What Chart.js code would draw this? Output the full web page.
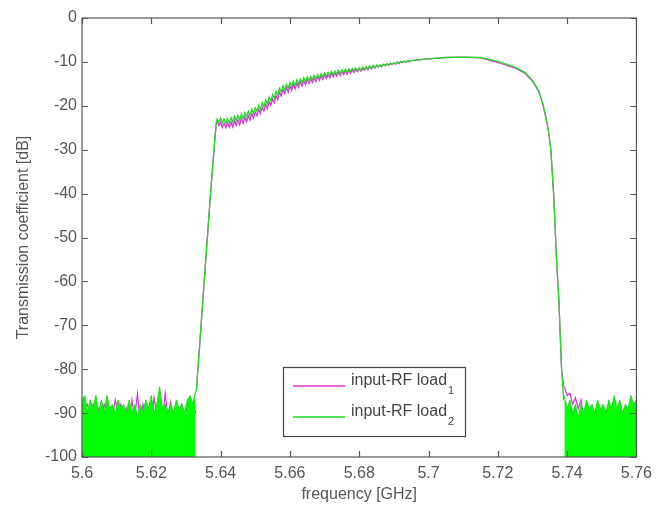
<!DOCTYPE html>
<html>
<head>
<meta charset="utf-8">
<script src="https://cdn.jsdelivr.net/npm/chart.js@4/dist/chart.umd.min.js"></script>
<style>
html,body{margin:0;padding:0;background:#fff;}
#wrap{position:relative;width:659px;height:508px;}
</style>
</head>
<body>
<div id="wrap"><canvas id="c" width="659" height="508"></canvas></div>
<script>
// ---------- DATA ----------
const seriesNames = ['input-RF load', 'input-RF load'];
const seriesSubs = ['1', '2'];
const xTickLabels = ['5.6','5.62','5.64','5.66','5.68','5.7','5.72','5.74','5.76'];
const yTickLabels = ['-100','-90','-80','-70','-60','-50','-40','-30','-20','-10','0'];

// passband frequencies (GHz)
const passFreq = [
  5.6330,5.6340,5.6350,5.6360,5.6370,5.6380,5.6387,
  5.6390,5.6395,
  5.6400,5.6405,5.6410,5.6415,5.6420,5.6425,5.6430,5.6435,5.6440,5.6445,5.6450,5.6455,5.6460,5.6465,5.6470,5.6475,5.6480,5.6485,5.6490,5.6495,
  5.6500,5.6505,5.6510,5.6515,5.6520,5.6525,5.6530,5.6535,5.6540,5.6545,5.6550,5.6555,5.6560,5.6565,5.6570,5.6575,5.6580,5.6585,5.6590,5.6595,
  5.6600,5.6605,5.6610,5.6615,5.6620,5.6625,5.6630,5.6635,5.6640,5.6645,5.6650,5.6655,5.6660,5.6665,5.6670,5.6675,5.6680,5.6685,5.6690,5.6695,
  5.6700,5.6705,5.6710,5.6715,5.6720,5.6725,5.6730,5.6735,5.6740,5.6745,5.6750,5.6755,5.6760,5.6765,5.6770,5.6775,5.6780,5.6785,5.6790,5.6795,
  5.6800,5.6805,5.6810,5.6815,5.6820,5.6825,5.6830,5.6835,5.6840,5.6845,5.6850,5.6855,5.6860,5.6865,5.6870,5.6875,5.6880,5.6885,5.6890,5.6895,
  5.6900,5.6905,5.6910,5.6915,5.6920,5.6925,5.6930,5.6935,5.6940,5.6945,5.6950,
  5.7000,5.7050,5.7100,5.7150,5.7180,5.7200,5.7220,5.7250,5.7280,5.7300,
  5.7318,5.7330,5.7340,5.7347,5.7353,5.7361,5.7370,5.7376,5.7384,5.7390
];
// load 1 (magenta) passband, dB
const load1Pass = [
  -85,-74,-63,-52,-41,-31,-24.5,
  -23.5,-24.5,
  -23.7,-24.9,-24.0,-25.0,-23.9,-24.9,-23.7,-24.8,-23.4,-24.5,-23.2,-24.3,-22.9,-24.0,-22.6,-23.6,-22.2,-23.2,-21.8,-22.8,
  -21.4,-22.3,-20.8,-21.8,-20.3,-21.2,-19.7,-20.6,-19.0,-19.9,-18.4,-19.3,-17.7,-18.6,-16.9,-17.8,-16.3,-17.2,-15.9,-16.9,
  -15.5,-16.5,-15.1,-16.1,-14.8,-15.8,-14.6,-15.5,-14.3,-15.2,-14.0,-14.9,-13.9,-14.7,-13.6,-14.5,-13.4,-14.2,-13.2,-14.0,
  -13.0,-13.8,-12.9,-13.6,-12.6,-13.4,-12.5,-13.2,-12.3,-13.1,-12.2,-12.9,-12.1,-12.8,-11.9,-12.6,-11.8,-12.4,-11.7,-12.2,
  -11.6,-12.1,-11.5,-11.9,-11.3,-11.8,-11.1,-11.6,-11.0,-11.4,-10.9,-11.2,-10.8,-11.1,-10.6,-10.9,-10.5,-10.8,-10.4,-10.6,
  -10.3,-10.5,-10.1,-10.4,-10.0,-10.2,-9.9,-10.1,-9.8,-10.0,-9.7,
  -9.3,-9.0,-8.9,-9.1,-9.7,-10.1,-10.6,-11.4,-12.7,-14.4,
  -16.7,-19.7,-23.2,-26.2,-30.0,-40.0,-56.0,-64.0,-80.0,-84.0
];
// load 2 (green) passband, dB
const load2Pass = [
  -85,-74,-63,-52,-41,-31,-24,
  -23.0,-23.7,
  -22.8,-23.9,-23.0,-24.0,-22.9,-23.9,-22.7,-23.7,-22.4,-23.4,-22.2,-23.2,-21.9,-22.9,-21.6,-22.6,-21.2,-22.2,-20.8,-21.8,
  -20.4,-21.3,-19.8,-20.8,-19.3,-20.2,-18.7,-19.6,-18.0,-18.9,-17.4,-18.3,-16.7,-17.6,-16.0,-16.9,-15.4,-16.4,-15.1,-16.0,
  -14.7,-15.6,-14.4,-15.3,-14.1,-15.0,-13.9,-14.7,-13.6,-14.5,-13.4,-14.2,-13.3,-14.0,-13.1,-13.8,-12.9,-13.6,-12.7,-13.4,
  -12.5,-13.2,-12.4,-13.0,-12.2,-12.9,-12.1,-12.7,-11.9,-12.6,-11.8,-12.4,-11.7,-12.3,-11.6,-12.1,-11.5,-12.0,-11.4,-11.9,
  -11.3,-11.8,-11.2,-11.7,-11.1,-11.6,-10.9,-11.4,-10.8,-11.3,-10.7,-11.1,-10.7,-11.0,-10.5,-10.8,-10.4,-10.7,-10.3,-10.5,
  -10.2,-10.4,-10.0,-10.3,-9.9,-10.1,-9.8,-10.0,-9.7,-9.9,-9.7,
  -9.3,-9.0,-8.9,-9.0,-9.5,-9.9,-10.4,-11.2,-12.5,-14.2,
  -16.5,-19.5,-23.0,-26.0,-30.0,-40.0,-56.0,-64.0,-80.0,-87.0
];

// noise floor, low-frequency side
const noiseLeftFreq = [
  5.6000,5.6008,5.6016,5.6024,5.6032,5.6040,5.6048,5.6056,5.6064,5.6072,
  5.6080,5.6088,5.6096,5.6104,5.6112,5.6120,5.6128,5.6136,5.6144,5.6152,
  5.6160,5.6168,5.6176,5.6184,5.6192,5.6200,5.6208,5.6216,5.6224,5.6232,
  5.6240,5.6248,5.6256,5.6264,5.6272,5.6280,5.6288,5.6296,5.6304,5.6312,
  5.6320,5.6328
];
const load1NoiseLeft = [
  -88,-89,-88,-91,-88,-90,-89,-91,-88,-90,
  -89,-91,-87,-90,-88,-91,-89,-92,-87,-91,
  -85.5,-92,-88,-91,-89,-93,-86.5,-90,-88,-92,
  -85.5,-91,-87.5,-92,-89,-91,-88,-90,-89,-91,
  -88,-90
];
const load2NoiseLeft = [
  -87,-86,-90,-87,-89,-86,-90,-87,-90,-86,
  -89,-88,-90,-87,-89,-88,-90,-87,-90,-88,
  -91,-88,-90,-87,-89,-86,-90,-88,-84,-89,
  -88,-90,-88,-90,-87,-89,-88,-90,-87,-86,
  -88,-85
];
// noise floor, high-frequency side
const noiseRightFreq = [
  5.7392,5.7400,5.7408,5.7416,5.7424,5.7432,5.7440,5.7448,5.7456,5.7464,
  5.7472,5.7480,5.7488,5.7496,5.7504,5.7512,5.7520,5.7528,5.7536,5.7544,
  5.7552,5.7560,5.7568,5.7576,5.7584,5.7592,5.7600
];
const load1NoiseRight = [
  -84,-86,-85.5,-88,-86.5,-89,-87,-91,-88,-90,
  -89,-91,-88,-90,-89,-91,-88,-90,-89,-91,
  -88,-90,-89,-91,-87,-90,-88
];
const load2NoiseRight = [
  -86,-89,-87,-90,-88,-91,-88,-90,-87,-89,
  -88,-90,-87,-89,-88,-90,-87,-89,-86,-89,
  -87,-90,-88,-89,-86,-88,-87
];

// ---------- STYLE ----------
const MAGENTA = '#dd33dd';
const GREEN = '#22dd22';
const NOISE_GREEN = '#00ff00';
const TEXT = '#555';
const AXIS = '#555';
const FONT = "'Liberation Sans', Arial, Helvetica, sans-serif";

const pts = (f, v) => f.map((x, i) => ({x: x, y: v[i]}));

const boxTicks = {
  id: 'boxTicks',
  afterDraw(chart) {
    const {ctx, chartArea: a, scales: {x, y}} = chart;
    ctx.save();
    ctx.strokeStyle = AXIS;
    ctx.lineWidth = 1.2;
    ctx.strokeRect(a.left, a.top, a.width, a.height);
    ctx.beginPath();
    const L = 6;
    x.ticks.forEach(t => {
      const p = Math.round(x.getPixelForValue(t.value)) + 0.5;
      ctx.moveTo(p, a.bottom); ctx.lineTo(p, a.bottom - L);
      ctx.moveTo(p, a.top); ctx.lineTo(p, a.top + L);
    });
    y.ticks.forEach(t => {
      const p = Math.round(y.getPixelForValue(t.value)) + 0.5;
      ctx.moveTo(a.left, p); ctx.lineTo(a.left + L, p);
      ctx.moveTo(a.right, p); ctx.lineTo(a.right - L, p);
    });
    ctx.stroke();
    ctx.restore();
  }
};

const boxLegend = {
  id: 'boxLegend',
  afterDraw(chart) {
    const {ctx, chartArea: a} = chart;
    const bx = a.left + 201, by = a.top + 349, bw = 182, bh = 69;
    ctx.save();
    ctx.fillStyle = '#fff';
    ctx.fillRect(bx, by, bw, bh);
    ctx.strokeStyle = '#444';
    ctx.lineWidth = 1.2;
    ctx.strokeRect(bx + 0.5, by + 0.5, bw, bh);
    const colors = [MAGENTA, GREEN];
    const rows = [by + 19, by + 50];
    rows.forEach((ry, i) => {
      ctx.strokeStyle = colors[i];
      ctx.lineWidth = 1.5;
      ctx.beginPath();
      ctx.moveTo(bx + 10, ry); ctx.lineTo(bx + 62, ry);
      ctx.stroke();
      ctx.fillStyle = '#444';
      ctx.textBaseline = 'middle';
      ctx.textAlign = 'left';
      ctx.font = '16px ' + FONT;
      const tx = bx + 68;
      ctx.fillText(seriesNames[i], tx, ry - 5);
      const w = ctx.measureText(seriesNames[i]).width;
      ctx.font = '11px ' + FONT;
      ctx.fillText(seriesSubs[i], tx + w + 1, ry + 5);
    });
    ctx.restore();
  }
};

const lineDs = (label, data, color, extra) => Object.assign({
  label: label, data: data, borderColor: color, backgroundColor: color,
  borderWidth: 1.3, pointRadius: 0, tension: 0, fill: false
}, extra || {});

new Chart(document.getElementById('c'), {
  type: 'line',
  data: {
    datasets: [
      lineDs('load2', pts(passFreq, load2Pass), GREEN),
      lineDs('load2 noise L', pts(noiseLeftFreq, load2NoiseLeft), GREEN, {fill: 'start', backgroundColor: NOISE_GREEN, borderWidth: 1}),
      lineDs('load2 noise R', pts(noiseRightFreq, load2NoiseRight), GREEN, {fill: 'start', backgroundColor: NOISE_GREEN, borderWidth: 1}),
      lineDs('load1', pts(passFreq, load1Pass), MAGENTA),
      lineDs('load1 noise L', pts(noiseLeftFreq, load1NoiseLeft), MAGENTA, {borderWidth: 1.2}),
      lineDs('load1 noise R', pts(noiseRightFreq, load1NoiseRight), MAGENTA, {borderWidth: 1.2})
    ]
  },
  options: {
    responsive: false,
    animation: false,
    events: [],
    layout: {padding: {left: 0, right: 20, top: 18, bottom: 0}},
    plugins: {legend: {display: false}, tooltip: {enabled: false}},
    scales: {
      x: {
        type: 'linear', min: 5.6, max: 5.76,
        afterFit: s => { s.height = 51; },
        grid: {drawOnChartArea: false, drawTicks: false},
        border: {display: false},
        ticks: {
          stepSize: 0.02, padding: 7, color: TEXT, maxRotation: 0, autoSkip: false,
          font: {family: FONT, size: 16},
          callback: (v, i) => xTickLabels[i]
        },
        title: {display: true, text: 'frequency [GHz]', color: TEXT,
          font: {family: FONT, size: 16}, padding: {top: 0, bottom: 4}}
      },
      y: {
        min: -100, max: 0,
        afterFit: s => { s.width = 82; },
        grid: {drawOnChartArea: false, drawTicks: false},
        border: {display: false},
        ticks: {
          stepSize: 10, padding: 5, color: TEXT, autoSkip: false,
          font: {family: FONT, size: 16},
          callback: (v, i) => yTickLabels[i]
        },
        title: {display: true, text: 'Transmission coefficient [dB]', color: TEXT,
          font: {family: FONT, size: 16}, padding: {top: 14, bottom: 0}}
      }
    }
  },
  plugins: [boxTicks, boxLegend]
});
</script>
</body>
</html>
